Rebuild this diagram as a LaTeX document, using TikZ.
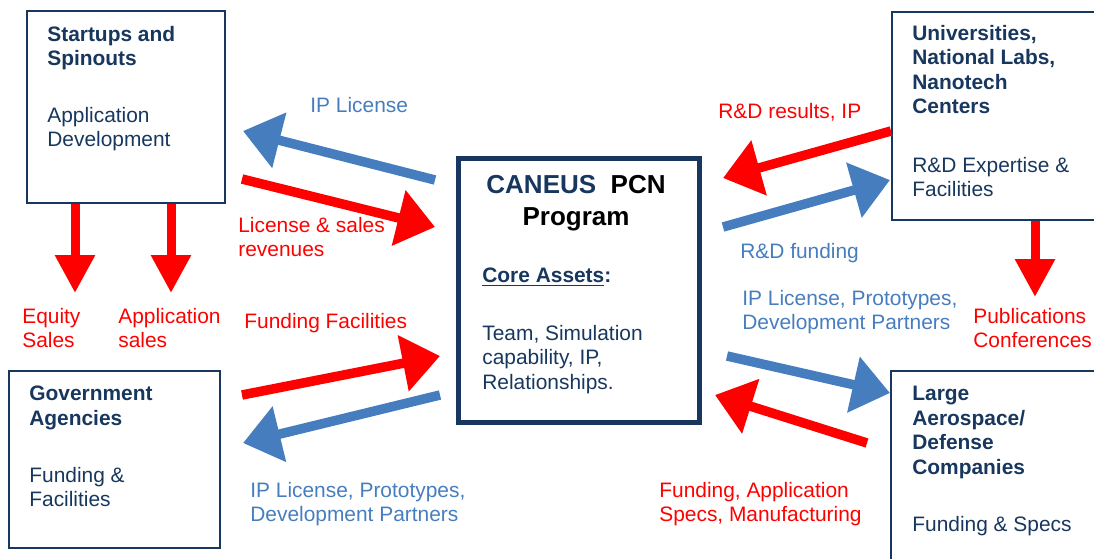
\documentclass[tikz,border=0pt]{standalone}
\usepackage{fontspec}
\setmainfont{Liberation Sans}
\usetikzlibrary{arrows.meta}
\usetikzlibrary{positioning}
\definecolor{navy}{RGB}{23,55,94}
\definecolor{steel}{RGB}{70,125,190}
\definecolor{brightred}{RGB}{255,0,0}
\tikzset{box/.style = {draw=navy, line width=0.04cm, inner sep=0, anchor=north west}}
\tikzset{txt/.style = {inner sep=0, anchor=north west, align=left, text=navy,
                       font=\fontsize{11.9}{13.9}\selectfont}}
\tikzset{bold/.style = {txt, font=\fontsize{11.9}{13.9}\selectfont\bfseries}}
\tikzset{redtxt/.style = {txt, text=brightred}}
\tikzset{bluetxt/.style = {txt, text=steel}}
\tikzset{flow/.style = {line width=0.19cm, -{Triangle[width=1.1cm, length=0.75cm]}}}
\tikzset{drop/.style = {line width=0.18cm, brightred, -{Triangle[width=0.76cm, length=0.76cm]}}}

\begin{document}
\begin{tikzpicture}[x=0.02cm, y=-0.02cm]
  \useasboundingbox (0, 0) rectangle (1094, 558);

  \node [box, minimum width=3.96cm, minimum height=3.84cm] (startup) at (26, 10) {};
  \node [box, line width=0.1cm, minimum width=4.82cm, minimum height=5.28cm] (pcn) at (456, 156) {};
  \node [box, minimum width=4.5cm, minimum height=4.16cm] (univ) at (891, 11) {};
  \node [box, minimum width=4.22cm, minimum height=3.54cm] (gov) at (8, 370) {};
  \node [box, minimum width=4.5cm, minimum height=4.4cm] (aero) at (890, 370) {};

  \node [bold] (startup-t) at (47, 26) {Startups and\\Spinouts};
  \node [txt] (startup-s) at (47, 107) {Application\\Development};
  \node [inner sep=0, anchor=north, align=center, font=\fontsize{14.8}{18.2}\selectfont\bfseries]
        (pcn-t) at (576, 175) {\textcolor{navy}{CANEUS}\ \ PCN\\Program};
  \node [bold] (pcn-c) at (482, 268) {\underline{Core Assets}:};
  \node [txt] (pcn-s) at (482, 325) {Team, Simulation\\capability, IP,\\Relationships.};
  \node [bold] (univ-t) at (912, 25) {Universities,\\National Labs,\\Nanotech\\Centers};
  \node [txt] (univ-s) at (912, 157) {R\&D Expertise \&\\Facilities};
  \node [bold] (gov-t) at (29, 386) {Government\\Agencies};
  \node [txt] (gov-s) at (29, 467) {Funding \&\\Facilities};
  \node [bold] (aero-t) at (912, 386) {Large\\Aerospace/\\Defense\\Companies};
  \node [txt] (aero-s) at (912, 516) {Funding \& Specs};

  \node [bluetxt] (ipl) at (310, 97) {IP License};
  \node [redtxt] (lsr) at (238, 217) {License \& sales\\revenues};
  \node [redtxt] (rdr) at (718, 103) {R\&D results, IP};
  \node [bluetxt] (rdf) at (740, 243) {R\&D funding};
  \node [bluetxt] (ipa) at (742, 290) {IP License, Prototypes,\\Development Partners};
  \node [redtxt] (pub) at (973, 308) {Publications\\Conferences};
  \node [redtxt] (eq) at (22, 308) {Equity\\Sales};
  \node [redtxt] (aps) at (118, 308) {Application\\sales};
  \node [redtxt] (ff) at (244, 313) {Funding Facilities};
  \node [bluetxt] (ipg) at (250, 482) {IP License, Prototypes,\\Development Partners};
  \node [redtxt] (fas) at (659, 482) {Funding, Application\\Specs, Manufacturing};

  \coordinate (ipl-a) at (435, 180);  \coordinate (ipl-b) at (243, 131);
  \coordinate (lsr-a) at (242, 179);  \coordinate (lsr-b) at (435, 227);
  \coordinate (rdr-a) at (891, 131);  \coordinate (rdr-b) at (723, 178);
  \coordinate (rdf-a) at (723, 227);  \coordinate (rdf-b) at (890, 180);
  \coordinate (ff-a) at (242, 395);   \coordinate (ff-b) at (440, 356);
  \coordinate (ipg-a) at (440, 395);  \coordinate (ipg-b) at (243, 443);
  \coordinate (ipa-a) at (727, 356);  \coordinate (ipa-b) at (890, 393);
  \coordinate (fas-a) at (867, 443);  \coordinate (fas-b) at (715, 395);
  \coordinate (eq-b) at (75, 293);
  \coordinate (aps-b) at (171, 293);
  \coordinate (pub-b) at (1035, 297);

  \draw [flow, steel] (ipl-a) -- (ipl-b);
  \draw [flow, brightred] (lsr-a) -- (lsr-b);
  \draw [flow, brightred] (rdr-a) -- (rdr-b);
  \draw [flow, steel] (rdf-a) -- (rdf-b);
  \draw [flow, brightred] (ff-a) -- (ff-b);
  \draw [flow, steel] (ipg-a) -- (ipg-b);
  \draw [flow, steel] (ipa-a) -- (ipa-b);
  \draw [flow, brightred] (fas-a) -- (fas-b);

  \draw [drop] (startup.south -| eq-b) -- (eq-b);
  \draw [drop] (startup.south -| aps-b) -- (aps-b);
  \draw [drop] (univ.south -| pub-b) -- (pub-b);
\end{tikzpicture}
\end{document}
